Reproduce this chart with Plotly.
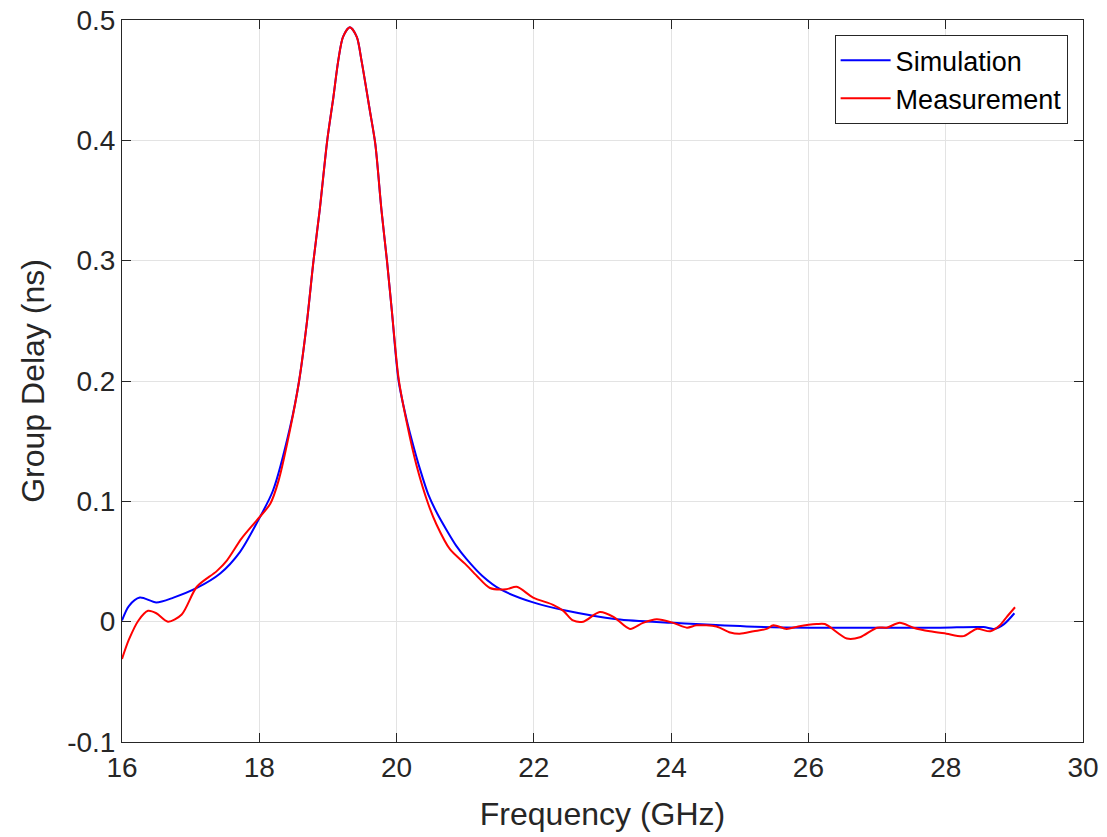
import plotly.graph_objects as go

# Simulation (blue)
sim_freq = [16.00, 16.10, 16.26, 16.50, 16.75, 17.09, 17.43, 17.72, 18.01, 18.20,
            18.45, 18.58, 18.69, 18.79, 18.88, 18.99, 19.08, 19.15, 19.22, 19.32,
            19.42, 19.49, 19.61, 19.69, 19.78, 19.86, 19.93, 20.03, 20.15, 20.25,
            20.34, 20.46, 20.60, 20.73, 20.87, 21.02, 21.25, 21.51, 21.99, 22.48,
            23.21, 24.03, 25.10, 26.02, 27.00, 27.92, 28.55, 28.70, 28.85, 29.00]
sim_delay = [0.001, 0.013, 0.020, 0.016, 0.020, 0.028, 0.040, 0.058, 0.087, 0.109,
             0.162, 0.200, 0.247, 0.300, 0.342, 0.400, 0.436, 0.466, 0.486, 0.494,
             0.486, 0.466, 0.425, 0.397, 0.342, 0.300, 0.259, 0.200, 0.167, 0.145,
             0.127, 0.106, 0.089, 0.076, 0.063, 0.052, 0.038, 0.027, 0.016, 0.009,
             0.002, -0.001, -0.004, -0.005, -0.005, -0.005, -0.0045, -0.006, -0.002, 0.007]

# Measurement (red)
meas_freq = [16.00, 16.10, 16.24, 16.38, 16.50, 16.67, 16.87, 17.09, 17.38, 17.53,
             17.74, 17.96, 18.16, 18.28, 18.45, 18.58, 18.69, 18.79, 18.88, 18.99,
             19.08, 19.15, 19.22, 19.32, 19.42, 19.49, 19.61, 19.69, 19.78, 19.86,
             19.93, 20.03, 20.15, 20.29, 20.46, 20.58, 20.78, 21.00, 21.17, 21.36,
             21.60, 21.75, 21.99, 22.28, 22.43, 22.57, 22.72, 22.96, 23.16, 23.40,
             23.59, 23.79, 24.03, 24.23, 24.37, 24.66, 24.86, 25.00, 25.20, 25.39,
             25.49, 25.68, 25.85, 26.12, 26.24, 26.56, 26.75, 27.00, 27.14, 27.33,
             27.53, 27.77, 28.01, 28.26, 28.45, 28.65, 28.79, 28.89, 29.01]
meas_delay = [-0.031, -0.015, 0.001, 0.009, 0.007, 0.000, 0.006, 0.029, 0.042, 0.051,
              0.069, 0.084, 0.098, 0.117, 0.160, 0.200, 0.247, 0.300, 0.342, 0.400,
              0.436, 0.466, 0.486, 0.494, 0.486, 0.466, 0.425, 0.397, 0.342, 0.300,
              0.259, 0.202, 0.165, 0.130, 0.098, 0.081, 0.060, 0.048, 0.038, 0.028,
              0.027, 0.029, 0.020, 0.014, 0.009, 0.001, 0.000, 0.008, 0.004, -0.006,
              -0.001, 0.002, -0.001, -0.005, -0.003, -0.004, -0.009, -0.010, -0.008, -0.006,
              -0.003, -0.006, -0.004, -0.002, -0.002, -0.014, -0.013, -0.005, -0.005, -0.001,
              -0.005, -0.008, -0.010, -0.012, -0.006, -0.008, -0.003, 0.004, 0.012]

x_ticks = [16, 18, 20, 22, 24, 26, 28, 30]
x_ticktext = ["16", "18", "20", "22", "24", "26", "28", "30"]
y_ticks = [-0.1, 0, 0.1, 0.2, 0.3, 0.4, 0.5]
y_ticktext = ["-0.1", "0", "0.1", "0.2", "0.3", "0.4", "0.5"]

FONT = "Liberation Sans, Arial, Helvetica, sans-serif"
TXT = "#262626"

fig = go.Figure()
fig.add_trace(go.Scatter(x=sim_freq, y=sim_delay, mode="lines", name="Simulation",
                         line=dict(color="#0000ff", width=2, shape="spline", smoothing=0.8)))
fig.add_trace(go.Scatter(x=meas_freq, y=meas_delay, mode="lines", name="Measurement",
                         line=dict(color="#ff0000", width=2, shape="spline", smoothing=0.8)))

axis_common = dict(showline=True, linecolor=TXT, linewidth=1, mirror="ticks",
                   ticks="inside", ticklen=9, tickcolor=TXT, automargin=False,
                   showgrid=True, gridcolor="#e3e3e3", gridwidth=1, zeroline=False,
                   tickfont=dict(family=FONT, size=28, color=TXT))

fig.update_layout(
    width=1107, height=837,
    paper_bgcolor="white", plot_bgcolor="white",
    margin=dict(l=122, r=24, t=20, b=95),
    font=dict(family=FONT, color=TXT),
    showlegend=True,
    legend=dict(x=0.984, y=0.979, xanchor="right", yanchor="top",
                bgcolor="white", bordercolor=TXT, borderwidth=1,
                font=dict(family=FONT, size=27, color="#000000"),
                tracegroupgap=0, itemwidth=50),
)
fig.update_xaxes(range=[16, 30], tickvals=x_ticks, ticktext=x_ticktext,
                 title=dict(text="Frequency (GHz)", font=dict(family=FONT, size=32, color=TXT), standoff=21),
                 **axis_common)
fig.update_yaxes(range=[-0.1, 0.5], tickvals=y_ticks, ticktext=y_ticktext,
                 title=dict(text="Group Delay (ns)", font=dict(family=FONT, size=32, color=TXT), standoff=12),
                 **axis_common)

fig.write_html("out.html")
